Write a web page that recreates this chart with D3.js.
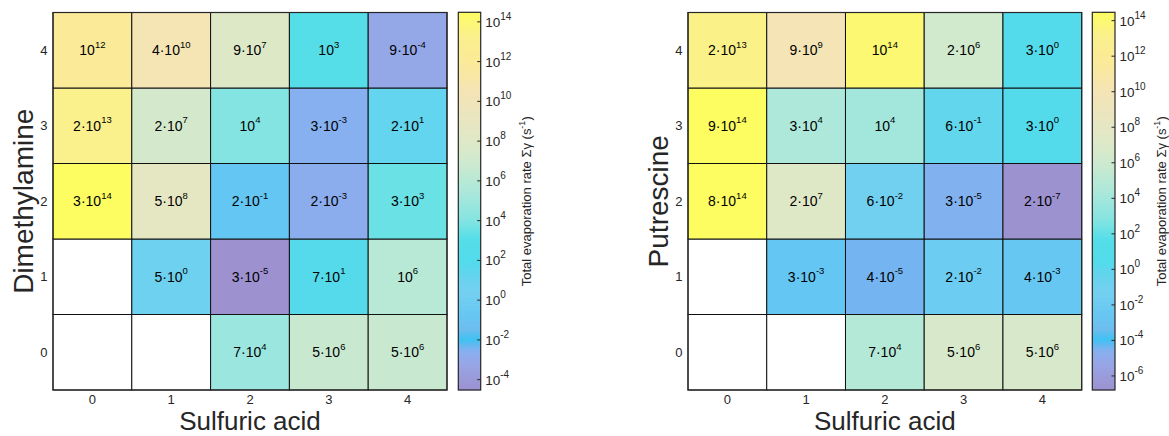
<!DOCTYPE html>
<html>
<head>
<meta charset="utf-8">
<script src="https://cdn.jsdelivr.net/npm/d3@7"></script>
<style>
  html, body { margin: 0; padding: 0; background: #fff; }
  svg { display: block; }
</style>
</head>
<body>
<svg id="chart" width="1169" height="436"></svg>
<script>
// ---------------- DATA ----------------
const sulfuricAcid = [0, 1, 2, 3, 4];          // x categories
const baseMolecules = [0, 1, 2, 3, 4];         // y categories
// rows indexed by number of base molecules (0..4), columns by sulfuric acid (0..4)
const dimethylamineRates = [
  [null, null, 7e4, 5e6, 5e6],
  [null, 5e0, 3e-5, 7e1, 1e6],
  [3e14, 5e8, 2e-1, 2e-3, 3e3],
  [2e13, 2e7, 1e4, 3e-3, 2e1],
  [1e12, 4e10, 9e7, 1e3, 9e-4]
];
const putrescineRates = [
  [null, null, 7e4, 5e6, 5e6],
  [null, 3e-3, 4e-5, 2e-2, 4e-3],
  [8e14, 2e7, 6e-2, 3e-5, 2e-7],
  [9e14, 3e4, 1e4, 6e-1, 3e0],
  [2e13, 9e9, 1e14, 2e6, 3e0]
];
const dimethylamineClim = [-4.52, 14.48];   // log10 colour limits
const putrescineClim = [-6.79, 14.47];
const dimethylamineCbTicks = [-4, -2, 0, 2, 4, 6, 8, 10, 12, 14];
const putrescineCbTicks = [-6, -4, -2, 0, 2, 4, 6, 8, 10, 12, 14];
const xLabel = "Sulfuric acid";
const yLabels = ["Dimethylamine", "Putrescine"];
const cbLabelMain = "Total evaporation rate Σγ (s";

// ---------------- STYLE ----------------
const FONT = "'Liberation Sans', Arial, Helvetica, sans-serif";
const AX = "#262626";
const cmapStops = [
  [0.00, "#9d91cf"], [0.07, "#98a6e6"], [0.105, "#86b0f0"], [0.135, "#3ec2f3"],
  [0.16, "#6cbcef"], [0.20, "#64c6f2"], [0.26, "#72cff0"], [0.30, "#66d4ee"],
  [0.34, "#53dbeb"], [0.40, "#55dee8"], [0.45, "#84e4e2"], [0.49, "#9ae6de"],
  [0.53, "#aee8da"], [0.555, "#b8e9d6"], [0.59, "#c8e9d0"], [0.62, "#d3e9cc"],
  [0.66, "#dee8c6"], [0.70, "#e6e6c2"], [0.79, "#f4e4b6"], [0.87, "#fbea98"],
  [0.94, "#faf08c"], [1.00, "#fdfd62"]
];
const cmap = d3.scaleLinear()
  .domain(cmapStops.map(d => d[0]))
  .range(cmapStops.map(d => d[1]))
  .interpolate(d3.interpolateRgb)
  .clamp(true);

const panels = [
  { rates: dimethylamineRates, clim: dimethylamineClim, cbTicks: dimethylamineCbTicks,
    yLabel: yLabels[0], x0: 53, x1: 447, cbx0: 458.3, cbx1: 480.7 },
  { rates: putrescineRates, clim: putrescineClim, cbTicks: putrescineCbTicks,
    yLabel: yLabels[1], x0: 688, x1: 1081.7, cbx0: 1092.3, cbx1: 1115 }
];
const Y0 = 12.5, Y1 = 390;

const svg = d3.select("#chart");
svg.append("rect").attr("width", 1169).attr("height", 436).attr("fill", "#fff");

function sup(textSel, base, exp, baseSize, supSize, rise) {
  textSel.append("tspan").attr("font-size", baseSize).text(base);
  textSel.append("tspan").attr("font-size", supSize).attr("dy", -rise).text(exp);
}

panels.forEach(p => {
  const g = svg.append("g");
  const x = d3.scaleLinear().domain([-0.5, 4.5]).range([p.x0, p.x1]);
  const y = d3.scaleLinear().domain([-0.5, 4.5]).range([Y1, Y0]);
  const c = d3.scaleLinear().domain(p.clim).range([0, 1]);

  // ticks (drawn below cells)
  g.selectAll(".yt").data(baseMolecules).join("line")
    .attr("x1", p.x0).attr("x2", p.x0 + 5)
    .attr("y1", d => y(d)).attr("y2", d => y(d))
    .attr("stroke", AX).attr("stroke-width", 1);
  g.selectAll(".xt").data(sulfuricAcid).join("line")
    .attr("x1", d => x(d)).attr("x2", d => x(d))
    .attr("y1", Y1).attr("y2", Y1 - 5)
    .attr("stroke", AX).attr("stroke-width", 1);

  const cells = [];
  p.rates.forEach((row, bi) => row.forEach((v, si) => {
    cells.push({ b: baseMolecules[bi], s: sulfuricAcid[si], v });
  }));

  // cells
  g.selectAll("rect.cell").data(cells).join("rect")
    .attr("class", "cell")
    .attr("x", d => x(d.s - 0.5)).attr("y", d => y(d.b + 0.5))
    .attr("width", d => x(d.s + 0.5) - x(d.s - 0.5))
    .attr("height", d => y(d.b - 0.5) - y(d.b + 0.5))
    .attr("fill", d => d.v == null ? "#fff" : cmap(c(Math.log10(d.v))))
    .attr("stroke", "#111").attr("stroke-width", 1);

  // cell labels
  cells.filter(d => d.v != null).forEach(d => {
    const e = Math.floor(Math.log10(d.v) + 1e-9);
    const m = Math.round(d.v / Math.pow(10, e));
    const t = g.append("text")
      .attr("x", x(d.s)).attr("y", y(d.b) + 5)
      .attr("text-anchor", "middle")
      .attr("font-family", FONT).attr("fill", "#000");
    sup(t, (m === 1 ? "" : m + "·") + "10", String(e), 14, 9.5, 7.5);
  });

  // axes frame
  g.append("rect").attr("x", p.x0).attr("y", Y0)
    .attr("width", p.x1 - p.x0).attr("height", Y1 - Y0)
    .attr("fill", "none").attr("stroke", AX).attr("stroke-width", 1.2);

  // tick labels
  g.selectAll(".ytl").data(baseMolecules).join("text")
    .attr("x", p.x0 - 5.5).attr("y", d => y(d) + 4.6)
    .attr("text-anchor", "end").attr("font-family", FONT)
    .attr("font-size", 13).attr("fill", AX).text(d => d);
  g.selectAll(".xtl").data(sulfuricAcid).join("text")
    .attr("x", d => x(d)).attr("y", 403.5)
    .attr("text-anchor", "middle").attr("font-family", FONT)
    .attr("font-size", 13).attr("fill", AX).text(d => d);

  // axis labels
  g.append("text").attr("x", (p.x0 + p.x1) / 2).attr("y", 430)
    .attr("text-anchor", "middle").attr("font-family", FONT)
    .attr("font-size", 26).attr("fill", AX).text(xLabel);
  g.append("text")
    .attr("transform", `translate(${p.x0 - 20},${(Y0 + Y1) / 2}) rotate(-90)`)
    .attr("text-anchor", "middle").attr("font-family", FONT)
    .attr("font-size", 28).attr("fill", AX).text(p.yLabel);

  // colorbar
  const cy = d3.scaleLinear().domain(p.clim).range([Y1, 12.3]);
  const nStrips = 190;
  const strips = d3.range(nStrips).map(i => p.clim[0] + (i + 0.5) * (p.clim[1] - p.clim[0]) / nStrips);
  const stripH = (Y1 - 12.3) / nStrips;
  g.selectAll("rect.cb").data(strips).join("rect")
    .attr("class", "cb")
    .attr("x", p.cbx0).attr("width", p.cbx1 - p.cbx0)
    .attr("y", d => cy(d) - stripH / 2 - 0.3).attr("height", stripH + 0.6)
    .attr("fill", d => cmap(c(d)));
  g.append("rect").attr("x", p.cbx0).attr("y", 12.3)
    .attr("width", p.cbx1 - p.cbx0).attr("height", Y1 - 12.3)
    .attr("fill", "none").attr("stroke", AX).attr("stroke-width", 1.2);
  g.selectAll(".cbt").data(p.cbTicks).join("line")
    .attr("x1", p.cbx1).attr("x2", p.cbx1 - 3.5)
    .attr("y1", d => cy(d)).attr("y2", d => cy(d))
    .attr("stroke", AX).attr("stroke-width", 1);
  p.cbTicks.forEach(tk => {
    const t = g.append("text")
      .attr("x", p.cbx1 + 4.5).attr("y", cy(tk) + 5)
      .attr("font-family", FONT).attr("fill", AX);
    sup(t, "10", String(tk), 13.5, 10, 7);
  });
  const lt = g.append("text")
    .attr("transform", `translate(${p.cbx1 + 50.5},${(Y0 + Y1) / 2}) rotate(-90)`)
    .attr("text-anchor", "middle").attr("font-family", FONT)
    .attr("font-size", 13).attr("fill", AX);
  lt.append("tspan").text(cbLabelMain);
  lt.append("tspan").attr("font-size", 9).attr("dy", -6).text("-1");
  lt.append("tspan").attr("dy", 6).text(")");
});
</script>
</body>
</html>
